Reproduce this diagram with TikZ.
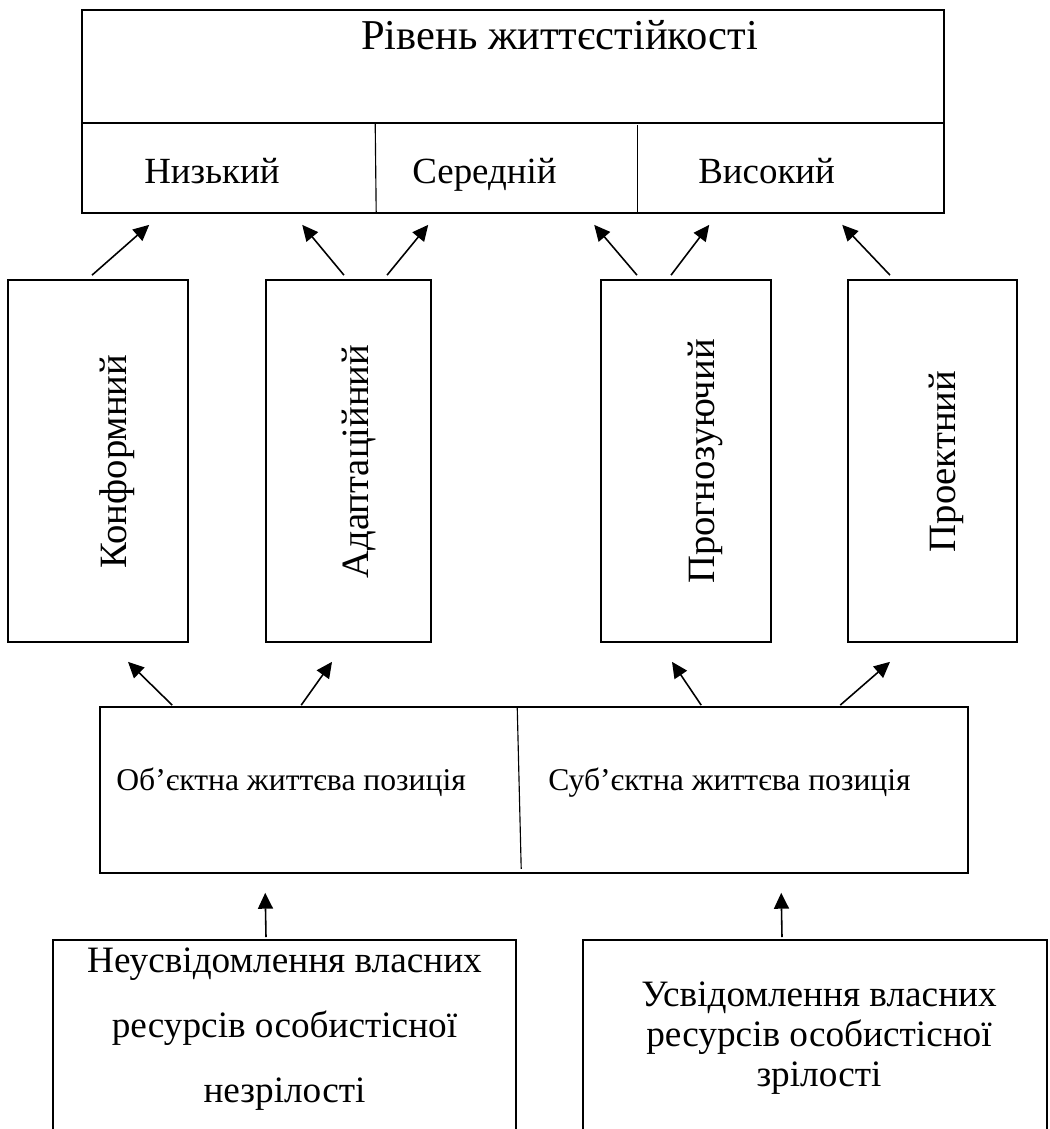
\documentclass[tikz,border=0pt]{standalone}
\usepackage{fontspec}
\setmainfont{Liberation Serif}
\usetikzlibrary{arrows.meta,calc,positioning}

\begin{document}
\begin{tikzpicture}[x=0.02cm, y=-0.02cm, >={Triangle[length=9pt,width=8.5pt]},
    box/.style={draw, line width=1pt, inner sep=0pt},
    vbox/.style={box, minimum height=7.24cm},
    vtext/.style={rotate=90, anchor=base, inner sep=0pt, font=\fontsize{22}{26}\selectfont},
    cell/.style={anchor=base west, inner sep=0pt, font=\fontsize{21}{25}\selectfont},
    lifetext/.style={anchor=base west, inner sep=0pt, font=\fontsize{18}{21}\selectfont},
    res/.style={anchor=north, align=center, inner sep=0pt},
    arr/.style={->, line width=0.9pt},
    split/.style={line width=0.65pt}]
\clip (0,0) rectangle (1049,1129);

% levels
\node[box, minimum width=17.24cm, minimum height=4.06cm] (level) at (513,111.5) {};
\node[anchor=base west, inner sep=0pt, font=\fontsize{24.2}{28}\selectfont] (title) at (361,50) {Рівень життєстійкості};
\draw[box] ($(level.north west)+(0,114)$) -- ($(level.north east)+(0,114)$);
\draw[split] ($(level.north west)+(294,114)$) -- ($(level.south west)+(295,0)$);
\draw[split] ($(level.north west)+(556,116)$) -- ($(level.south west)+(556,0)$);
\node[cell] (low) at (144,183) {Низький};
\node[cell] (mid) at (412,183) {Середній};
\node[cell] (high) at (698,183) {Високий};

% strategies
\node[vbox, minimum width=3.6cm] (conf) at (98,461) {};
\node[vbox, minimum width=3.3cm] (adapt) at (348.5,461) {};
\node[vbox, minimum width=3.4cm] (prog) at (686,461) {};
\node[vbox, minimum width=3.38cm] (proj) at (932.5,461) {};
\node[vtext] at ($(conf)+(28,0.5)$) {Конформний};
\node[vtext] at ($(adapt)+(19.5,0.5)$) {Адаптаційний};
\node[vtext] at ($(prog)+(28,0.5)$) {Прогнозуючий};
\node[vtext] at ($(proj)+(23,0.5)$) {Проектний};

\draw[arr] ($(conf.north)+(-6,-4)$) -- ($(level.south west)+(68,11)$);
\draw[arr] ($(adapt.north)+(-4.5,-4)$) -- ($(level.south west)+(221,11)$);
\draw[arr] ($(adapt.north)+(38.5,-4)$) -- ($(level.south west)+(347,11)$);
\draw[arr] ($(prog.north)+(-49,-4)$) -- ($(level.south west)+(513,11)$);
\draw[arr] ($(prog.north)+(-15,-4)$) -- ($(level.south west)+(628,11)$);
\draw[arr] ($(proj.north)+(-42.5,-4)$) -- ($(level.south west)+(761,11)$);

% life position
\node[box, minimum width=17.36cm, minimum height=3.32cm] (life) at (534,790) {};
\draw[split] ($(life.north west)+(418,0)$) -- ($(life.south west)+(422,-5)$);
\node[lifetext] (obj) at (116,790) {Об’єктна життєва позиція};
\node[lifetext] (subj) at (548,790) {Суб’єктна життєва позиція};

\draw[arr] ($(life.north west)+(73,-1)$) -- ($(conf.south)+(30,19)$);
\draw[arr] ($(life.north west)+(202,-1)$) -- ($(adapt.south)+(-16.5,19)$);
\draw[arr] ($(life.north west)+(602,-1)$) -- ($(prog.south)+(-14,19)$);
\draw[arr] ($(life.north west)+(741,-1)$) -- ($(proj.south)+(-42.5,19)$);

% resources
\node[box, minimum width=9.26cm, minimum height=6cm, anchor=north] (unaware) at (284.5,939) {};
\node[box, minimum width=9.28cm, minimum height=6cm, anchor=north] (aware) at (815,939) {};
\node[res, font=\fontsize{21.2}{36.9}\selectfont] (unawaretext) at (284.5,947.5) {Неусвідомлення власних\\ресурсів особистісної\\незрілості};
\node[res, font=\fontsize{21.2}{22.7}\selectfont] (awaretext) at (819,981.5) {Усвідомлення власних\\ресурсів особистісної\\зрілості};

\draw[arr] ($(unaware.north)+(-18.5,-2)$) -- ($(life.south west)+(166,19)$);
\draw[arr] ($(aware.north)+(-33,-2)$) -- ($(life.south west)+(682,19)$);
\end{tikzpicture}
\end{document}
